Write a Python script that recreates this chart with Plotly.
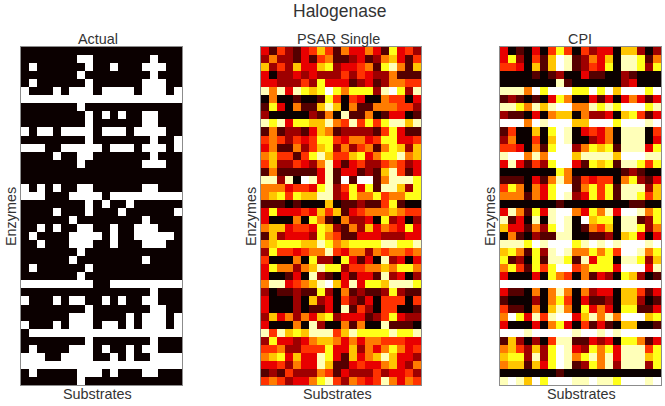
import plotly.graph_objects as go

# Columns that are 1 in each row of the actual activity matrix
ACTUAL_HITS = [
    [], [7, 8, 16], [1, 8, 11, 15, 16, 17], [7, 16], [1, 8, 15, 16, 17],
    [0, 4, 6, 7, 8, 10, 11, 12, 13, 15, 16, 17, 19], list(range(20)), [7],
    [8, 10, 12, 15, 16], [8, 15, 16],
    [0, 2, 3, 5, 6, 7, 8, 10, 11, 12, 14, 15, 16, 17], [8, 16, 19],
    [0, 1, 2, 5, 6, 7, 8, 9, 11, 12, 13, 15, 16, 17, 19], [4, 7, 8, 16], [7, 15, 16, 17],
    [], [], [0, 2, 4, 7, 8, 15, 16],
    [0, 1, 2, 6, 7, 8, 9, 11, 12, 13, 14, 15, 16, 17, 18, 19], [8, 10, 13],
    [4, 8, 12, 19], [6, 15], [2, 4, 7, 8, 11, 14, 15, 16],
    [1, 6, 7, 8, 9, 11, 14, 15, 16, 17, 18], [2, 6, 7, 8, 11, 15, 16, 17], [7],
    [6, 15], [1, 8], [7], [0, 1, 2, 3, 4, 5, 6, 7, 8, 11, 12, 13, 14, 15, 16, 17, 18, 19],
    [16], [0, 4, 6, 7, 10, 12, 15, 16], [8, 16, 17], [6, 7, 8, 13, 15, 16, 17, 19],
    [0, 4, 6, 7, 8, 10, 11, 13, 15, 16, 17, 19], list(range(1, 20)), [8, 16],
    [1, 6, 7, 8, 10, 13, 15, 16], [0, 1, 2, 5, 6, 7, 8, 11, 13, 16, 17, 18, 19],
    list(range(20)), [1, 7, 8, 9, 11, 15, 16], [7],
]

# Predicted scores, one digit per cell (0 = lowest, 9 = highest)
PSAR_SINGLE = [
    "31421 34641 53353 17342", "25221 31451 12312 56314", "62426 33672 33451 78516",
    "30223 23222 42432 25111", "33222 42733 31231 25544", "85838 76797 57772 89728",
    "05001 00174 04300 54403", "17305 11686 05115 55442", "20000 02150 81150 13301",
    "87837 76685 48474 78868", "15122 13651 22221 47311", "45424 34774 35534 77334",
    "35115 24672 52451 57626", "56441 47864 46735 77856", "46224 32583 13422 45423",
    "15111 11381 33121 68413", "88280 98381 91991 58887", "55534 43782 47371 88627",
    "56747 66882 37557 45577", "11101 00060 11211 47100", "37333 43646 13455 56544",
    "30005 07510 52230 72302", "56634 43762 15263 54373", "16233 32754 11333 22233",
    "56777 66875 67777 88778", "27443 45584 35525 45545", "40005 07220 73130 82303",
    "37552 56877 24455 65775", "30013 08210 31331 82302", "58834 56896 38377 68887",
    "20112 11720 51211 27211", "30002 06230 42130 44404", "30002 01130 81420 44001",
    "26352 53672 33312 47322", "30005 08200 51500 81110", "84867 68884 68777 78778",
    "27332 35665 35355 44433", "44522 44473 36253 57534", "56736 33873 16356 86332",
    "33425 33861 13433 56325", "12142 22541 32224 23342", "45423 35784 25434 85354",
]

CPI = [
    "30103 04740 42330 66202", "37204 16981 25360 88715", "44306 16981 24370 88727",
    "00001 01200 31100 21000", "00000 00810 00000 23000", "88859 79997 79796 99979",
    "12101 03750 03130 35313", "88758 68995 58787 99978", "21103 05660 52230 67413",
    "99959 89996 69997 99989", "14006 07980 34350 88804", "25004 06980 02350 88803",
    "44305 17992 57671 88837", "89958 59996 88886 99988", "38314 27993 17671 88747",
    "00000 00750 00000 12100", "11103 15851 43440 57213", "47505 37991 57471 88826",
    "55515 37982 37471 88746", "00000 00100 00000 01100", "38517 38995 37583 99857",
    "81308 08980 96770 88127", "63315 27980 15460 88725", "05102 11880 01120 67303",
    "88879 89997 89898 99989", "67517 28985 57574 99857", "71207 18871 83770 88726",
    "57417 47994 57773 99938", "30003 07540 51320 76201", "99999 99999 99999 99999",
    "31105 05850 52330 66413", "10002 05740 31120 66201", "41105 06850 73530 77113",
    "59738 48993 68585 99967", "30003 05730 41310 66001", "99989 99998 99898 99999",
    "16202 04881 13230 77513", "56426 27983 27573 88847", "67728 27985 78583 88867",
    "56616 37981 27582 88827", "00000 00100 00000 00000", "89869 79998 89887 99989",
]

# Score each digit stands for
LEVELS = [0, 0.11, 0.22, 0.33, 0.44, 0.55, 0.66, 0.77, 0.93, 1]

SUBPLOT_TITLES = ["Actual", "PSAR Single", "CPI"]
MAIN_TITLE = "Halogenase"

# matplotlib "hot"
HOT = [[0, "#0b0000"], [0.365, "#ff0000"], [0.746, "#ffff00"], [1, "#ffffff"]]
TEXT_COLOR = "#333333"


def decode(rows):
    return [[LEVELS[int(c)] for c in r.replace(" ", "")] for r in rows]


def hits_to_matrix(hits):
    return [[1 if c in row else 0 for c in range(20)] for row in hits]


panels = [hits_to_matrix(ACTUAL_HITS), decode(PSAR_SINGLE), decode(CPI)]
for p in panels:
    assert len(p) == 42 and all(len(r) == 20 for r in p)

W, H = 665, 406
x_spans = [(21, 182), (261, 421), (500, 661)]
y_span = (47, 385)
title_mids = [98, 338, 580]
label_mids = [97, 337, 581]


def label(text, px, py, size, angle=0):
    return dict(text=text, x=px / W, y=1 - py / H, xref="paper", yref="paper", showarrow=False,
                xanchor="center", yanchor="middle", textangle=angle,
                font=dict(size=size, color=TEXT_COLOR))


fig = go.Figure()
annotations = [label(MAIN_TITLE, 339, 11, 17.5)]

for i, (z, name, span) in enumerate(zip(panels, SUBPLOT_TITLES, x_spans)):
    suffix = "" if i == 0 else str(i + 1)
    fig.add_trace(go.Heatmap(z=z, colorscale=HOT, zmin=0, zmax=1, showscale=False,
                             xaxis="x" + suffix, yaxis="y" + suffix))
    axis = dict(showticklabels=False, ticks="", showgrid=False, zeroline=False,
                showline=True, mirror=True, linecolor="#8c8c8c", linewidth=1)
    fig.update_layout({
        "xaxis" + suffix: dict(domain=[span[0] / W, span[1] / W], range=[-0.5, 19.5], **axis),
        "yaxis" + suffix: dict(domain=[1 - y_span[1] / H, 1 - y_span[0] / H], range=[41.5, -0.5],
                               anchor="x" + suffix, **axis),
    })
    annotations.append(label(name, title_mids[i], 39, 14.4))
    annotations.append(label("Substrates", label_mids[i], 394, 14.4))
    annotations.append(label("Enzymes", span[0] - 10, 217, 14.4, angle=-90))

fig.update_layout(width=W, height=H, margin=dict(l=0, r=0, t=0, b=0), autosize=False,
                  paper_bgcolor="white", plot_bgcolor="white", showlegend=False,
                  font=dict(family="Liberation Sans, Arial, sans-serif"),
                  annotations=annotations)

fig.write_html("out.html", config=dict(displayModeBar=False),
               post_script="document.body.style.margin='0';")
